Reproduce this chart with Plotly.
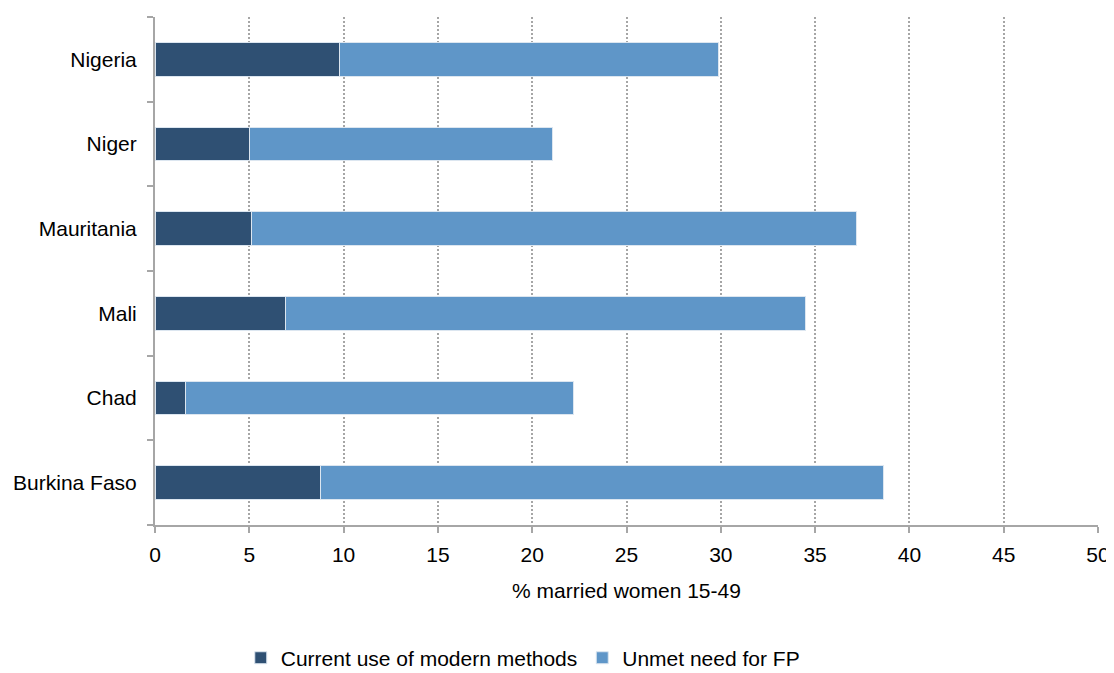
import plotly.graph_objects as go

countries = ["Burkina Faso", "Chad", "Mali", "Mauritania", "Niger", "Nigeria"]
modern_use = [8.8, 1.6, 6.9, 5.1, 5.0, 9.8]
unmet_need = [29.85, 20.6, 27.6, 32.1, 16.1, 20.1]

fig = go.Figure()
fig.add_trace(go.Bar(
    y=countries, x=modern_use, orientation="h",
    name="Current use of modern methods",
    marker=dict(color="#2F5073", line=dict(color="#DCE6F0", width=1)),
))
fig.add_trace(go.Bar(
    y=countries, x=unmet_need, orientation="h",
    name="Unmet need for FP",
    marker=dict(color="#5F96C8", line=dict(color="#DCE6F0", width=1)),
))

# page body has an 8px default margin, so the figure is drawn 8px in from the top-left
fig.update_layout(
    barmode="stack",
    bargap=0.6,
    width=1106, height=665,
    margin=dict(l=147, r=16, t=9, b=148, autoexpand=False),
    plot_bgcolor="white", paper_bgcolor="white",
    font=dict(family="Liberation Sans, Arial, sans-serif", size=21, color="#000000"),
    legend=dict(orientation="h", x=0.39, xanchor="center", y=-0.262, yanchor="middle",
                font=dict(size=21), traceorder="normal", itemwidth=30),
    showlegend=True,
)
fig.update_xaxes(
    range=[0, 50], dtick=5, tick0=0,
    showgrid=True, gridcolor="#A6A6A6", griddash="2px,2px", gridwidth=1.5,
    showline=True, linecolor="#A6A6A6", linewidth=2,
    ticks="outside", ticklen=6, tickcolor="#A6A6A6", tickwidth=2,
    zeroline=False, automargin=False,
    ticklabelstandoff=4,
    title=dict(text="% married women 15-49", standoff=18, font=dict(size=21)),
)
fig.update_yaxes(
    showgrid=False, automargin=False,
    showline=True, linecolor="#A6A6A6", linewidth=2,
    ticks="outside", ticklen=6, tickcolor="#A6A6A6", tickwidth=2,
    tickson="boundaries",
    ticklabelstandoff=12,
)

fig.write_html("out.html")
